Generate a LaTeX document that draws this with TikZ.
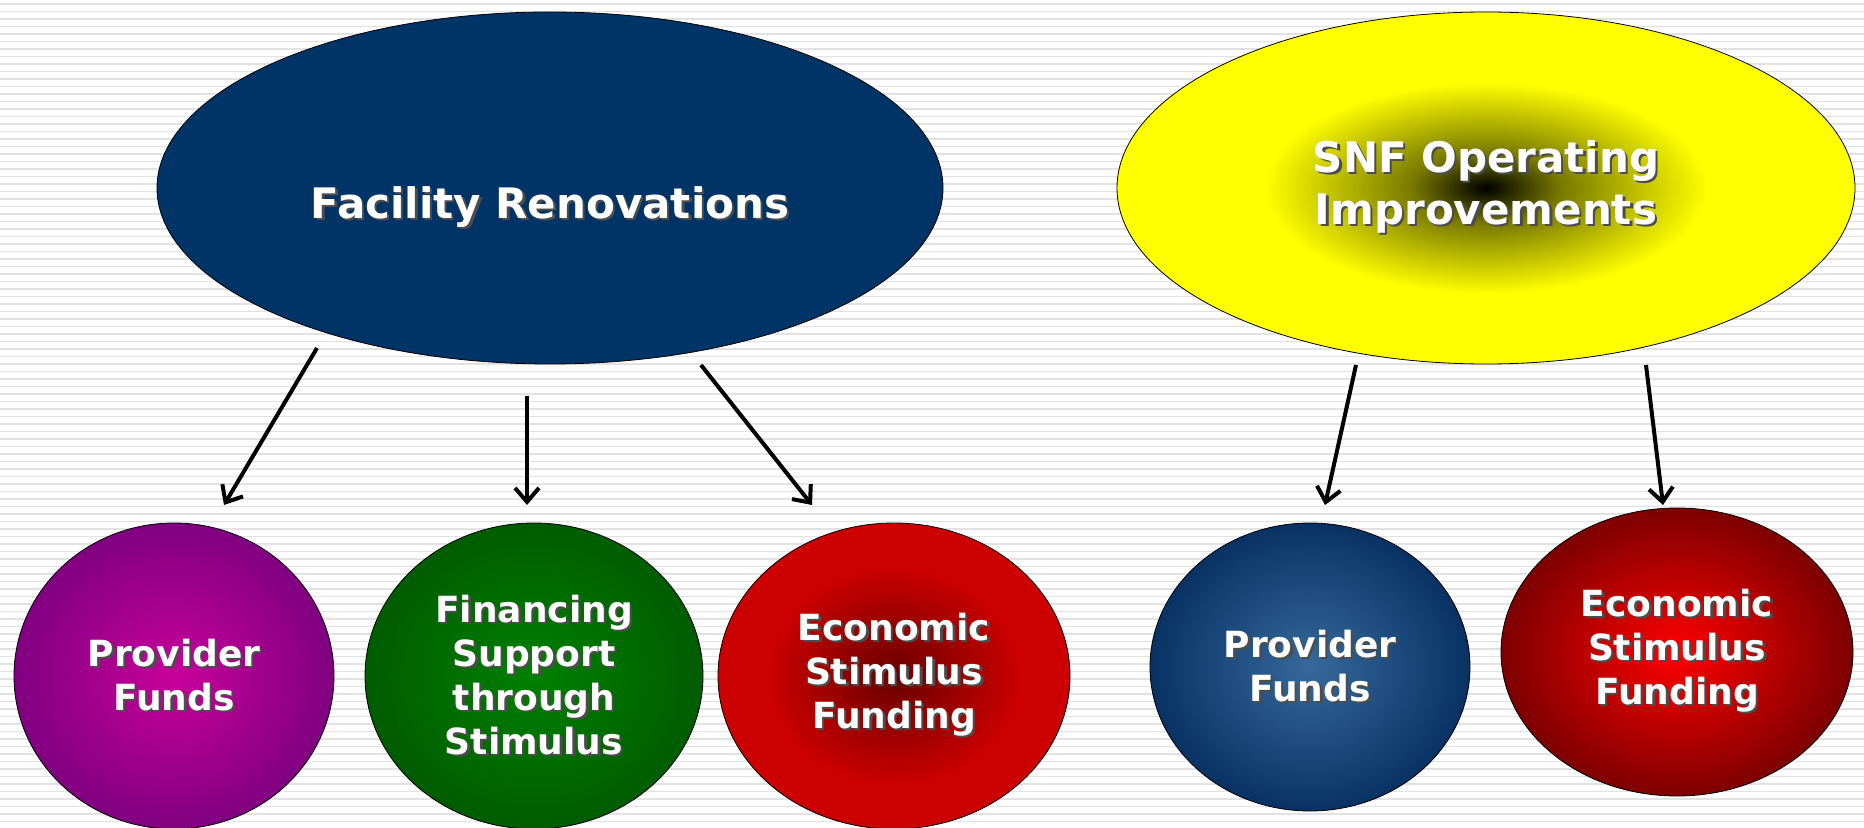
\documentclass[tikz,border=0pt]{standalone}
\usepackage{fontspec}
\setmainfont{DejaVu Sans}
\usetikzlibrary{shapes.geometric, arrows.meta, positioning}

\definecolor{navy}{RGB}{0,51,102}
\definecolor{snfyellow}{RGB}{255,255,0}
\definecolor{olivedk}{RGB}{120,120,0}
\definecolor{purpin}{RGB}{200,0,155}
\definecolor{purpout}{RGB}{128,0,128}
\definecolor{greenin}{RGB}{0,128,0}
\definecolor{greenout}{RGB}{0,92,0}
\definecolor{redin}{RGB}{105,0,0}
\definecolor{redout}{RGB}{204,0,0}
\definecolor{bluein}{RGB}{55,105,155}
\definecolor{blueout}{RGB}{8,50,100}
\definecolor{brightred}{RGB}{255,0,0}
\definecolor{maroon}{RGB}{125,0,0}
\definecolor{stripegray}{RGB}{226,226,226}

\pgfdeclareradialshading{snfglow}{\pgfpoint{0bp}{0bp}}{color(0bp)=(black); color(5bp)=(olivedk); color(15bp)=(snfyellow); color(50bp)=(snfyellow)}
\pgfdeclareradialshading{purpglow}{\pgfpoint{0bp}{0bp}}{color(0bp)=(purpin); color(25bp)=(purpout); color(50bp)=(purpout)}
\pgfdeclareradialshading{greenglow}{\pgfpoint{0bp}{0bp}}{color(0bp)=(greenin); color(25bp)=(greenout); color(50bp)=(greenout)}
\pgfdeclareradialshading{redglow}{\pgfpoint{0bp}{0bp}}{color(0bp)=(redin); color(18bp)=(redout); color(50bp)=(redout)}
\pgfdeclareradialshading{blueglow}{\pgfpoint{0bp}{0bp}}{color(0bp)=(bluein); color(25bp)=(blueout); color(50bp)=(blueout)}
\pgfdeclareradialshading{brightglow}{\pgfpoint{0bp}{0bp}}{color(0bp)=(brightred); color(25bp)=(maroon); color(50bp)=(maroon)}

\tikzstyle{bigoval} = [ellipse, draw=black, inner sep=0pt, text=white,
align=center, font=\bfseries\fontsize{21}{26}\selectfont]
\tikzstyle{smalloval} = [ellipse, draw=black, inner sep=0pt, text=white,
align=center, font=\bfseries\fontsize{18}{22}\selectfont]
\tikzstyle{arrow} = [line width=2pt, -{Straight Barb[length=7pt, width=12pt]}]
\tikzstyle{stripe} = [stripegray, line width=0.9pt]

\newcommand\shtxt[1]{\makebox[0pt][l]{\kern1.2pt\raisebox{-1.2pt}{\color{black!70}#1}}#1}

\begin{document}
\begin{tikzpicture}[x=0.5pt, y=-0.5pt]
  \clip (0,0) rectangle (1864,828);
  \fill[white] (0,0) rectangle (1864,828);
  \foreach \y in {4,11.5,...,828}
    \draw[stripe] (0,\y) -- (1864,\y);

  \node (reno) [bigoval, fill=navy, minimum width=393pt, minimum height=176pt] at (550,188)
    {\raisebox{-10pt}[\height][\depth]{\shtxt{Facility Renovations}}};
  \node (snf) [bigoval, shading=snfglow, minimum width=369pt, minimum height=176pt] at (1486,188)
    {\shtxt{SNF Operating}\\\shtxt{Improvements}};

  \node (prov1) [smalloval, shading=purpglow, minimum width=160pt, minimum height=153pt] at (174,676)
    {\shtxt{Provider}\\\shtxt{Funds}};
  \node (fin) [smalloval, shading=greenglow, minimum width=169pt, minimum height=153pt] at (534,676)
    {\shtxt{Financing}\\\shtxt{Support}\\\shtxt{through}\\\shtxt{Stimulus}};
  \node (econ1) [smalloval, shading=redglow, minimum width=176pt, minimum height=153pt] at (894,676)
    {\shtxt{Economic}\\\shtxt{Stimulus}\\\shtxt{Funding}};
  \node (prov2) [smalloval, shading=blueglow, minimum width=160pt, minimum height=144pt] at (1310,667)
    {\shtxt{Provider}\\\shtxt{Funds}};
  \node (econ2) [smalloval, shading=brightglow, minimum width=176pt, minimum height=144pt] at (1677,652)
    {\shtxt{Economic}\\\shtxt{Stimulus}\\\shtxt{Funding}};

  % arrow ends
  \coordinate (reno-a) at (317,348);
  \coordinate (reno-b) at (527,396);
  \coordinate (reno-c) at (701,365);
  \coordinate (snf-a) at (1356,365);
  \coordinate (snf-b) at (1646,365);
  \coordinate (prov1-in) at (224,505);
  \coordinate (fin-in) at (527,505);
  \coordinate (econ1-in) at (812,505);
  \coordinate (prov2-in) at (1325,505);
  \coordinate (econ2-in) at (1663,505);

  \draw [arrow] (reno-a) -- (prov1-in);
  \draw [arrow] (reno-b) -- (fin-in);
  \draw [arrow] (reno-c) -- (econ1-in);
  \draw [arrow] (snf-a) -- (prov2-in);
  \draw [arrow] (snf-b) -- (econ2-in);
\end{tikzpicture}
\end{document}
